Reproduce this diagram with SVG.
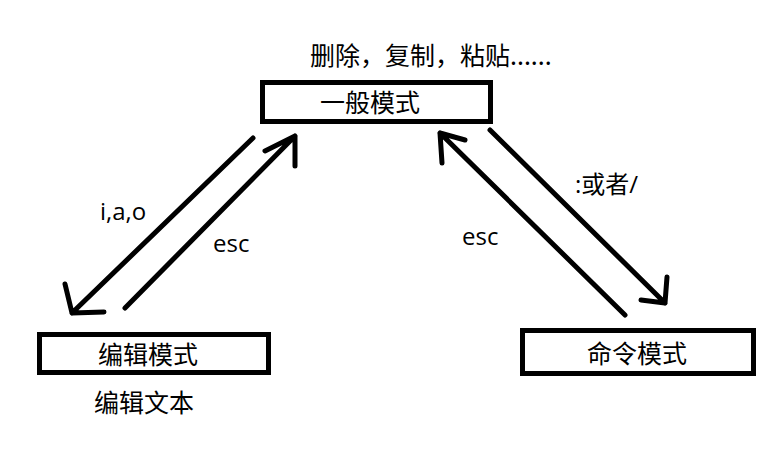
<svg xmlns="http://www.w3.org/2000/svg" width="784" height="459" viewBox="0 0 784 459">
<style>
.box{fill:#fff;stroke:#000;stroke-width:5}
.cjk{font-family:"Noto Sans CJK SC","Microsoft YaHei",sans-serif;font-size:25px;fill:#000}
.lat{font-family:"Open Sans","Noto Sans CJK SC",sans-serif;font-size:24px;fill:#000}
.ln{fill:none;stroke:#000;stroke-width:5;stroke-linecap:round;stroke-linejoin:round}
</style>
<rect width="784" height="459" fill="#fff"/>
<text class="cjk" x="310" y="65">删除，复制，粘贴......</text>
<g id="normal">
<rect class="box" x="262.5" y="82.5" width="228" height="39"/>
<text class="cjk" x="370" y="112" text-anchor="middle">一般模式</text>
</g>
<g id="edit">
<rect class="box" x="39.5" y="334.5" width="229" height="38"/>
<text class="cjk" x="148" y="364" text-anchor="middle">编辑模式</text>
<text class="cjk" x="144" y="412" text-anchor="middle">编辑文本</text>
</g>
<g id="command">
<rect class="box" x="522.5" y="330.5" width="231" height="43"/>
<text class="cjk" x="637" y="363" text-anchor="middle">命令模式</text>
</g>
<g id="connectors">
<path class="ln" d="M253,138 L72,313 M65,284 L72,313 L104,312"/>
<path class="ln" d="M125,308 L295,136 M265,151 L295,136 L295,166"/>
<path class="ln" d="M625,315 L440,133 M465,140 L440,133 L442,163"/>
<path class="ln" d="M490,130 L665,303 M667,277 L665,303 L641,300"/>
<text class="lat" x="100" y="220">i,a,o</text>
<text class="lat" x="213" y="252">esc</text>
<text class="lat" x="462" y="245">esc</text>
<text class="lat" x="575" y="193">:或者/</text>
</g>
</svg>
